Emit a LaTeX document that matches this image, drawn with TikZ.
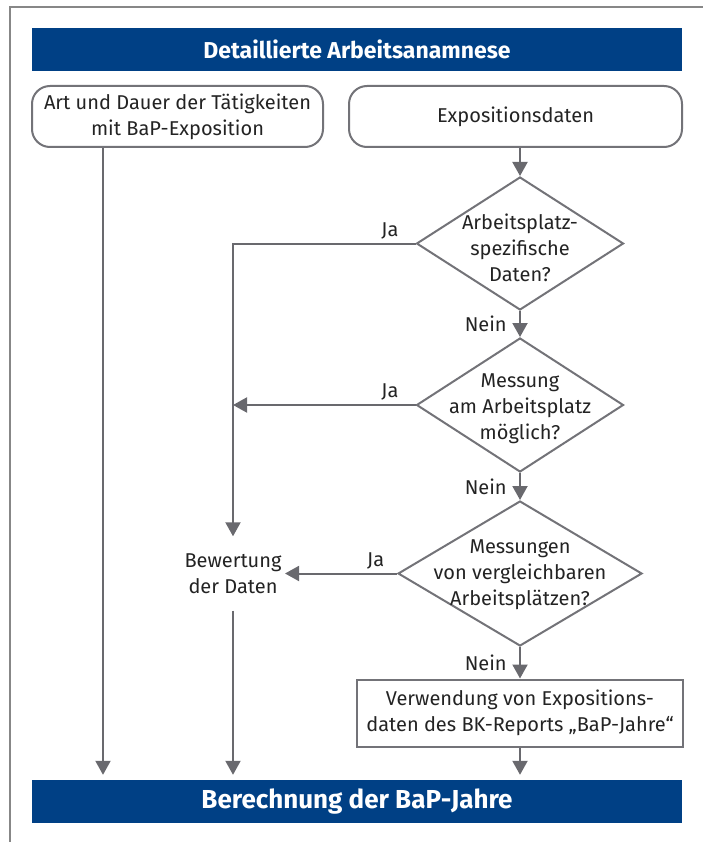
\documentclass[tikz,border=0pt]{standalone}
\usepackage{fontspec}
\setmainfont{Fira Sans}
\usetikzlibrary{positioning, calc, shapes.geometric, arrows.meta}
\definecolor{dguvblue}{RGB}{0,64,133}
\definecolor{linegray}{RGB}{105,105,110}
\definecolor{boxgray}{RGB}{115,115,120}
\definecolor{framegray}{RGB}{135,135,135}
\definecolor{textdark}{RGB}{35,35,35}
\tikzstyle{Flow} = [
%Flow arrow with a filled triangle tip:
line width=2pt, draw=linegray,
-{Triangle[width=15pt, length=14pt, fill=linegray]}
]

\begin{document}
\begin{tikzpicture}[x=1pt, y=-1pt,
			font=\fontsize{20pt}{26pt}\selectfont, text=textdark,
			banner/.style = {rectangle, fill=dguvblue, text=white, minimum width=650pt, minimum height=43pt},
			startbox/.style = {rectangle, rounded corners=18pt, draw=boxgray, line width=2pt, align=center, minimum height=61pt},
			decision/.style = {diamond, draw=boxgray, line width=2pt, inner sep=0pt},
			dtext/.style = {align=center},
			procbox/.style = {rectangle, draw=boxgray, line width=2pt, align=center, minimum width=326pt, minimum height=67pt},
		]

		\useasboundingbox (0,0) rectangle (703,842);
		\draw[framegray, line width=2pt] (703,7) -- (10,7) -- (10,842);

		\node[banner, font=\fontsize{23pt}{27pt}\selectfont\bfseries](top) at (357,49.5){Detaillierte Arbeitsanamnese};
		\node[startbox, minimum width=291pt](art) at (177.5,116.5){Art und Dauer der Tätigkeiten\\mit BaP-Exposition};
		\node[startbox, minimum width=333pt](expo) at (515.5,116.5){Expositionsdaten};

		\node[decision, minimum width=207pt, minimum height=133pt](d1) at (520,243.5){};
		\node[dtext](d1t) at (520,248){Arbeitsplatz-\\spezifische\\Daten?};
		\node[decision, minimum width=207pt, minimum height=134pt](d2) at (520,405){};
		\node[dtext](d2t) at (520,409){Messung\\am Arbeitsplatz\\möglich?};
		\node[decision, minimum width=244pt, minimum height=145pt](d3) at (520,573.5){};
		\node[dtext](d3t) at (520,575){Messungen\\von vergleichbaren\\Arbeitsplätzen?};

		\node[align=center, minimum width=102pt, minimum height=74pt](bew) at (233,573.5){Bewertung\\der Daten};
		\node[procbox](verw) at (520,713){Verwendung von Expositions-\\daten des BK-Reports „BaP-Jahre“};
		\node[banner, font=\fontsize{26pt}{31pt}\selectfont\bfseries](bot) at (357,801.5){Berechnung der BaP-Jahre};

		\draw[Flow](d1.north |- expo.south)--(d1.north);
		\draw[Flow](d1.west)-|node[pos=0.07, above]{Ja}(bew.north);
		\draw[Flow](d1.south)--node[midway, left=9pt]{Nein}(d2.north);
		\draw[Flow](d2.west)--node[pos=0.14, above]{Ja}(d2.west -| bew.north);
		\draw[Flow](d2.south)--node[midway, left=9pt]{Nein}(d3.north);
		\draw[Flow](d3.west)--node[pos=0.19, above]{Ja}(d3.west -| bew.east);
		\draw[Flow](d3.south)--node[midway, left=9pt]{Nein}(verw.north);
		\draw[Flow, shorten >=5pt](art.south -| 103,0)--(103,0 |- bot.north);
		\draw[Flow, shorten >=5pt](bew.south)--(bew.south |- bot.north);
		\draw[Flow, shorten >=5pt](verw.south)--(verw.south |- bot.north);

	\end{tikzpicture}
\end{document}
